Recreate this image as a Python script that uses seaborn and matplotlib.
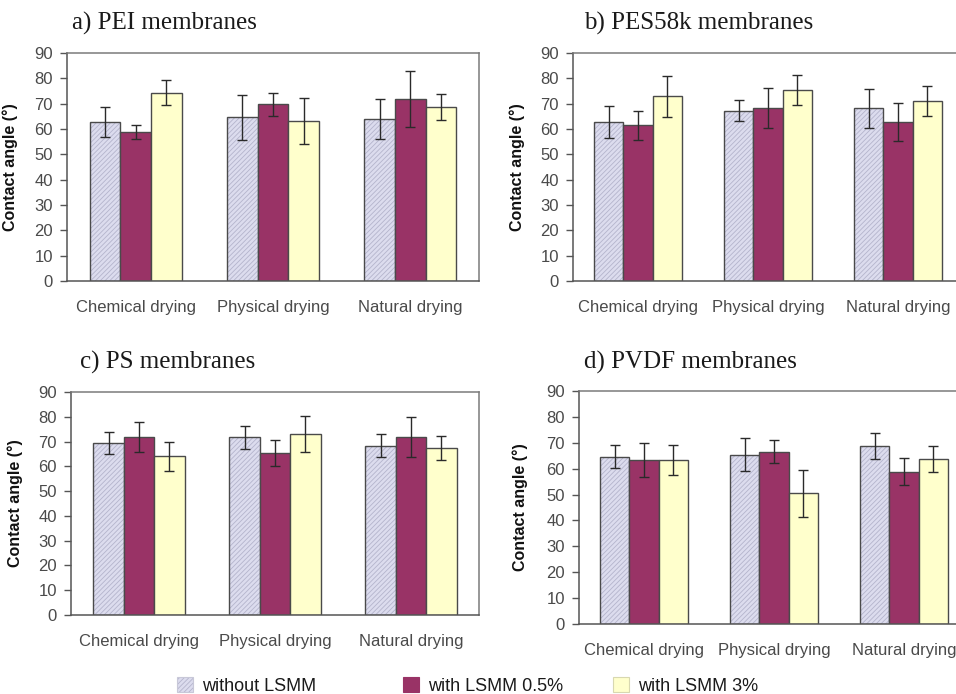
import numpy as np
import pandas as pd
import matplotlib
matplotlib.use("Agg")
import matplotlib.pyplot as plt
import seaborn as sns
from matplotlib.patches import Patch
from matplotlib.colors import to_rgba

categories = ["Chemical drying", "Physical drying", "Natural drying"]
series = ["without LSMM", "with LSMM 0.5%", "with LSMM 3%"]
panel_titles = ["a) PEI membranes", "b) PES58k membranes", "c) PS membranes", "d) PVDF membranes"]

# values indexed [series][category]
pei_mean = [[62.7, 64.6, 64.0], [58.9, 69.7, 71.8], [74.4, 63.1, 68.6]]
pei_err = [[5.8, 8.8, 7.8], [2.8, 4.5, 11.2], [4.9, 9.0, 5.1]]
pes_mean = [[62.7, 67.3, 68.2], [61.5, 68.2, 62.7], [72.9, 75.4, 71.0]]
pes_err = [[6.3, 4.1, 7.7], [5.7, 7.9, 7.6], [8.0, 5.9, 5.8]]
ps_mean = [[69.4, 71.7, 68.4], [71.7, 65.4, 71.7], [64.1, 72.9, 67.4]]
ps_err = [[4.4, 4.6, 4.7], [6.0, 5.3, 8.1], [5.8, 7.3, 4.8]]
pvdf_mean = [[64.6, 65.4, 68.7], [63.4, 66.5, 58.8], [63.4, 50.5, 63.8]]
pvdf_err = [[4.5, 6.3, 5.0], [6.7, 4.5, 5.2], [5.9, 9.0, 5.0]]

y_ticks = list(range(0, 91, 10))
y_label = "Contact angle (°)"

colors = ["#dcdcee", "#993366", "#ffffcc"]
hatch_color = "#b4b4cc"
edge = "#4a4a4a"

sns.set_style("white")
plt.rcParams["font.family"] = ["Liberation Sans", "DejaVu Sans"]
plt.rcParams["hatch.linewidth"] = 0.6

fig = plt.figure(figsize=(9.56, 6.94), dpi=100)
W, H = 956.0, 694.0

# axes rects in pixels: left, top, right, bottom
rects = [(67, 53, 479, 281), (573, 53, 963, 281), (71, 392, 479, 615), (579, 391, 969, 624)]
title_pos = [(72, 23), (584, 23), (80, 362), (584, 362)]
ylab_x = [18, 525, 23, 528]

means = [pei_mean, pes_mean, ps_mean, pvdf_mean]
errs = [pei_err, pes_err, ps_err, pvdf_err]

for k in range(4):
    l, t, r, b = rects[k]
    ax = fig.add_axes([l / W, 1 - b / H, (r - l) / W, (b - t) / H])
    rows = []
    for si, s in enumerate(series):
        for ci, c in enumerate(categories):
            rows.append({"category": c, "series": s, "value": means[k][si][ci]})
    df = pd.DataFrame(rows)
    sns.barplot(data=df, x="category", y="value", hue="series", order=categories,
                hue_order=series, palette=colors, errorbar=None, width=0.67,
                edgecolor=edge, linewidth=1.0, saturation=1, legend=False, ax=ax)
    bar_containers = list(ax.containers)
    for si, cont in enumerate(bar_containers):
        xs, ys = [], []
        for bar in cont.patches:
            xs.append(bar.get_x() + bar.get_width() / 2)
            ys.append(bar.get_height())
            if si == 0:
                bar.set_hatch("///////")
                bar._hatch_color = to_rgba(hatch_color)
        ax.errorbar(xs, ys, yerr=errs[k][si], fmt="none", ecolor="#2a2a2a",
                    elinewidth=1.0, capsize=3.6, capthick=1.0, zorder=5)
    ax.set_xlim(-0.5, 2.5)
    ax.set_ylim(0, 90)
    ax.set_yticks(y_ticks)
    ax.set_xlabel("")
    ax.set_ylabel(y_label, fontsize=11.5, fontweight="bold", color="#111111")
    ax.yaxis.set_label_coords((ylab_x[k] - l) / (r - l), 0.5)
    ax.set_xticks([0, 1, 2])
    ax.set_xticklabels(categories)
    ax.set_xticks([-0.5, 0.5, 1.5], minor=True)
    ax.tick_params(axis="x", which="major", length=0, labelsize=12, labelcolor="#4a4a4a", pad=14)
    ax.tick_params(axis="x", which="minor", length=5, width=1, color="#555555", direction="out")
    ax.tick_params(axis="y", length=5, width=1, color="#555555", direction="out",
                   labelsize=12, labelcolor="#4a4a4a", pad=5, left=True)
    for side in ["left", "bottom"]:
        ax.spines[side].set_color("#555555")
        ax.spines[side].set_linewidth(1.1)
    for side in ["top", "right"]:
        ax.spines[side].set_color("#7a7a7a")
        ax.spines[side].set_linewidth(1.1)
        ax.spines[side].set_visible(True)
    ax.set_facecolor("white")
    tx, ty = title_pos[k]
    fig.text(tx / W, 1 - ty / H, panel_titles[k], fontsize=18, va="center", ha="left",
             family=["Liberation Serif", "DejaVu Serif"], color="#1a1a1a")

legend_x = [177, 403, 613]
for si, s in enumerate(series):
    if si == 0:
        h = Patch(facecolor=colors[0], edgecolor="#c8c8d8", hatch="///////", linewidth=0.8)
        h._hatch_color = to_rgba(hatch_color)
    elif si == 1:
        h = Patch(facecolor=colors[1], edgecolor=colors[1], linewidth=0.8)
    else:
        h = Patch(facecolor=colors[2], edgecolor="#d8d8b0", linewidth=0.8)
    fig.legend(handles=[h], labels=[s], loc="center left",
               bbox_to_anchor=(legend_x[si] / W, 1 - 686 / H), frameon=False,
               borderpad=0, borderaxespad=0, handlelength=0.9, handleheight=0.9,
               handletextpad=0.5, fontsize=13, labelcolor="#1a1a1a")

fig.savefig("out.png", dpi=100, facecolor="white")
